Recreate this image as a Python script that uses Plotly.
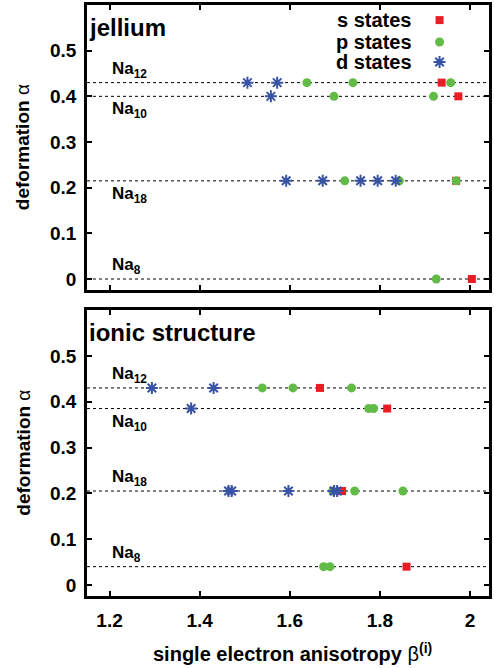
import plotly.graph_objects as go

# ---------------- data ----------------
jel_s_beta = [1.937, 1.974, 1.969, 2.004]
jel_s_alpha = [0.43, 0.40, 0.215, 0.0]
jel_p_beta = [1.638, 1.740, 1.957, 1.698, 1.919, 1.722, 1.843, 1.969, 1.925]
jel_p_alpha = [0.43, 0.43, 0.43, 0.40, 0.40, 0.215, 0.215, 0.215, 0.0]
jel_d_beta = [1.506, 1.572, 1.558, 1.592, 1.673, 1.757, 1.795, 1.835]
jel_d_alpha = [0.43, 0.43, 0.40, 0.215, 0.215, 0.215, 0.215, 0.215]

ion_s_beta = [1.667, 1.816, 1.716, 1.859]
ion_s_alpha = [0.43, 0.385, 0.205, 0.04]
ion_p_beta = [1.539, 1.607, 1.737, 1.775, 1.786, 1.695, 1.744, 1.851, 1.675, 1.689]
ion_p_alpha = [0.43, 0.43, 0.43, 0.385, 0.385, 0.205, 0.205, 0.205, 0.04, 0.04]
ion_d_beta = [1.294, 1.431, 1.381, 1.464, 1.471, 1.597, 1.698, 1.705]
ion_d_alpha = [0.43, 0.43, 0.385, 0.205, 0.205, 0.205, 0.205, 0.205]

cluster_labels = ["Na<sub>12</sub>", "Na<sub>10</sub>", "Na<sub>18</sub>", "Na<sub>8</sub>"]
jel_levels = [0.43, 0.40, 0.215, 0.0]
ion_levels = [0.43, 0.385, 0.205, 0.04]
jel_label_side = ["above", "below", "below", "above"]
ion_label_side = ["above", "below", "above", "above"]

state_names = ["s states", "p states", "d states"]
x_ticks = [1.2, 1.4, 1.6, 1.8, 2.0]
x_ticktext = ["1.2", "1.4", "1.6", "1.8", "2"]
y_ticks = [0, 0.1, 0.2, 0.3, 0.4, 0.5]
y_ticktext = ["0", "0.1", "0.2", "0.3", "0.4", "0.5"]

# ---------------- style ----------------
FONT = "Liberation Sans"
RED = "#ec1c24"
GREEN = "#62bb46"
BLUE = "#3953a4"
styles = {
    "s": dict(symbol="square", size=8, color=RED),
    "p": dict(symbol="circle", size=9, color=GREEN),
    "d": dict(symbol="asterisk-open", size=10, color=BLUE, line=dict(color=BLUE, width=2)),
}

fig = go.Figure()

def add_points(xs, ys, key, xa, ya):
    fig.add_trace(go.Scatter(x=xs, y=ys, mode="markers", marker=styles[key],
                             xaxis=xa, yaxis=ya, showlegend=False, cliponaxis=False))

add_points(jel_s_beta, jel_s_alpha, "s", "x", "y")
add_points(jel_p_beta, jel_p_alpha, "p", "x", "y")
add_points(jel_d_beta, jel_d_alpha, "d", "x", "y")
add_points(ion_s_beta, ion_s_alpha, "s", "x2", "y2")
add_points(ion_p_beta, ion_p_alpha, "p", "x2", "y2")
add_points(ion_d_beta, ion_d_alpha, "d", "x2", "y2")

# legend key markers on a hidden overlay axis over the top panel
key_x = [0.877, 0.877, 0.877]
key_y = [0.947, 0.870, 0.800]
for i, k in enumerate(["s", "p", "d"]):
    fig.add_trace(go.Scatter(x=[key_x[i]], y=[key_y[i]], mode="markers", marker=styles[k],
                             xaxis="x3", yaxis="y3", showlegend=False))

# dotted reference lines + labels
def add_levels(levels, sides, xref, yref):
    for lv, lab, side in zip(levels, cluster_labels, sides):
        fig.add_shape(type="line", xref=f"{xref} domain", yref=yref, x0=0, x1=1, y0=lv, y1=lv,
                      line=dict(color="black", width=1, dash="dot"), layer="below")
        fig.add_annotation(x=1.2, y=lv, xref=xref, yref=yref, text=f"<b>{lab}</b>",
                           showarrow=False, xanchor="left",
                           yanchor="bottom" if side == "above" else "top",
                           yshift=0 if side == "above" else -1,
                           font=dict(family=FONT, size=17, color="black"))

add_levels(jel_levels, jel_label_side, "x", "y")
add_levels(ion_levels, ion_label_side, "x2", "y2")

# legend texts
for yk, name in zip(key_y, state_names):
    fig.add_annotation(x=0.813, y=yk, xref="x domain", yref="y domain", text=f"<b>{name}</b>",
                       showarrow=False, xanchor="right", yanchor="middle",
                       font=dict(family=FONT, size=20, color="black"))

# panel titles
fig.add_annotation(x=0.0, y=1.0, xref="x domain", yref="y domain", text="<b>jellium</b>",
                   showarrow=False, xanchor="left", yanchor="top", yshift=-7,
                   font=dict(family=FONT, size=24, color="black"))
fig.add_annotation(x=0.0, y=1.0, xref="x2 domain", yref="y2 domain", text="<b>ionic structure</b>",
                   showarrow=False, xanchor="left", yanchor="top", yshift=-7,
                   font=dict(family=FONT, size=24, color="black"))

# axis titles
for xr_, yr_ in (("x", "y"), ("x2", "y2")):
    fig.add_annotation(x=-0.16, y=0.5, xref=f"{xr_} domain", yref=f"{yr_} domain",
                       text="<b>deformation</b> α", textangle=-90, showarrow=False,
                       xanchor="center", yanchor="middle",
                       font=dict(family=FONT, size=19, color="black"))
fig.add_annotation(x=0.51, y=-0.199, xref="x2 domain", yref="y2 domain",
                   text="<b>single electron anisotropy</b> β<sup><b>(i)</b></sup>",
                   showarrow=False, xanchor="center", yanchor="middle",
                   font=dict(family=FONT, size=20, color="black"))

axis_common = dict(showline=True, linecolor="black", linewidth=2.5, mirror="allticks",
                   ticks="inside", ticklen=5, tickwidth=1.5, tickcolor="black",
                   showgrid=False, zeroline=False,
                   tickfont=dict(family=FONT, size=19, color="black", weight="bold"))
xr = [1.15, 2.042]
yr = [-0.024, 0.6]
bx = [f"<b>{t}</b>" for t in x_ticktext]
by = [f"<b>{t}</b>" for t in y_ticktext]
fig.update_layout(
    width=494, height=668,
    margin=dict(l=87, r=2, t=5, b=72),
    paper_bgcolor="white", plot_bgcolor="white",
    xaxis=dict(axis_common, domain=[0, 1], range=xr, tickvals=x_ticks, ticktext=bx,
               showticklabels=False, anchor="y"),
    yaxis=dict(axis_common, domain=[0.5178, 1], range=yr, tickvals=y_ticks, ticktext=by,
               anchor="x", ticklabelstandoff=4),
    xaxis2=dict(axis_common, domain=[0, 1], range=xr, tickvals=x_ticks, ticktext=bx,
                anchor="y2", ticklabelstandoff=5),
    yaxis2=dict(axis_common, domain=[0, 0.4839], range=yr, tickvals=y_ticks, ticktext=by,
                anchor="x2", ticklabelstandoff=4),
    xaxis3=dict(domain=[0, 1], range=[0, 1], visible=False, anchor="y3", overlaying="x"),
    yaxis3=dict(domain=[0.5178, 1], range=[0, 1], visible=False, anchor="x3", overlaying="y"),
    showlegend=False,
)

fig.write_html("out.html")
